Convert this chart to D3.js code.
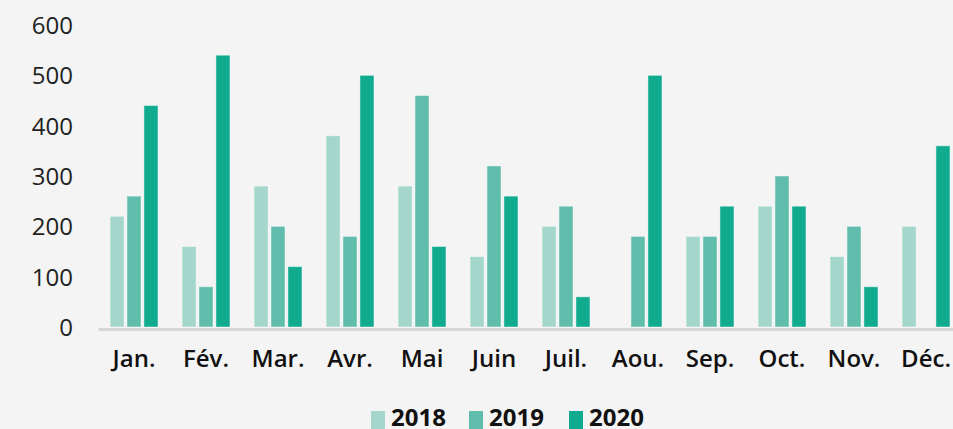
<!DOCTYPE html>
<html>
<head>
<meta charset="utf-8">
<script src="https://cdn.jsdelivr.net/npm/d3@7"></script>
<style>
	html, body { margin: 0; padding: 0; background: #f4f4f4; overflow: hidden; }
	svg { display: block; font-family: "Open Sans", sans-serif; }
</style>
</head>
<body>
<svg id="chart" width="953" height="429"></svg>
<script>
	const months = [ 'Jan.', 'Fév.', 'Mar.', 'Avr.', 'Mai', 'Juin', 'Juil.', 'Aou.', 'Sep.', 'Oct.', 'Nov.', 'Déc.' ];
	const years = [ '2018', '2019', '2020' ];
	const colors = [ '#a5d6cc', '#60bdac', '#11ac8f' ];
	const v2018 = [ 220, 160, 280, 380, 280, 140, 200, 0, 180, 240, 140, 200 ];
	const v2019 = [ 260, 80, 200, 180, 460, 320, 240, 180, 180, 300, 200, 0 ];
	const v2020 = [ 440, 540, 120, 500, 160, 260, 60, 500, 240, 240, 80, 360 ];
	const yTicks = [ 0, 100, 200, 300, 400, 500, 600 ];

	( function() {
		let series = [ v2018, v2019, v2020 ],
			svg = d3.select( '#chart' );

		let x = d3.scaleBand().domain( months ).range( [ 98, 962 ] ),
			x1 = d3.scaleBand().domain( years ).range( [ 12, 60 ] ).paddingInner( 0.17 ),
			y = d3.scaleLinear().domain( [ 0, 600 ] ).range( [ 327, 25 ] );

		// y labels
		let yAxis = svg.append( 'g' )
			.attr( 'transform', 'translate(73,0)' )
			.call( d3.axisLeft( y ).tickValues( yTicks ).tickSize( 0 ).tickPadding( 0 ) );
		yAxis.select( '.domain' ).remove();
		yAxis.selectAll( 'text' )
			.attr( 'dy', '0.36em' )
			.style( 'font-family', '"Open Sans", sans-serif' )
			.style( 'font-size', '24px' )
			.attr( 'fill', '#222' );

		// bars
		let groups = svg.append( 'g' ).selectAll( 'g' ).data( months )
			.enter().append( 'g' )
			.attr( 'transform', d => 'translate(' + x( d ) + ',0)' );

		groups.selectAll( 'rect' )
			.data( ( d, i ) => years.map( ( yr, j ) => ( { yr: yr, j: j, v: series[ j ][ i ] } ) ).filter( e => e.v > 0 ) )
			.enter().append( 'rect' )
			.attr( 'x', d => x1( d.yr ) )
			.attr( 'y', d => y( d.v ) )
			.attr( 'width', x1.bandwidth() )
			.attr( 'height', d => y( 0 ) - y( d.v ) )
			.attr( 'fill', d => colors[ d.j ] )
			.attr( 'stroke', 'rgba(255,255,255,0.45)' )
			.attr( 'stroke-width', 1 );

		// x axis
		let xAxis = svg.append( 'g' )
			.attr( 'transform', 'translate(0,329)' )
			.call( d3.axisBottom( x ).tickSize( 0 ) );
		xAxis.select( '.domain' )
			.attr( 'stroke', '#d6d6d6' )
			.attr( 'stroke-width', 3 );
		xAxis.selectAll( 'text' )
			.attr( 'y', 38 )
			.attr( 'dy', 0 )
			.style( 'font-family', '"Open Sans", sans-serif' )
			.style( 'font-size', '24px' )
			.style( 'font-weight', '600' )
			.attr( 'fill', '#111' );

		// legend
		let legendX = [ 371, 469, 569 ];
		let legend = svg.append( 'g' ).selectAll( 'g' ).data( years )
			.enter().append( 'g' )
			.attr( 'transform', ( d, i ) => 'translate(' + legendX[ i ] + ',411)' );
		legend.append( 'rect' )
			.attr( 'width', 14 )
			.attr( 'height', 18 )
			.attr( 'fill', ( d, i ) => colors[ i ] );
		legend.append( 'text' )
			.attr( 'x', 20 )
			.attr( 'y', 15 )
			.style( 'font-size', '24px' )
			.style( 'font-weight', '700' )
			.attr( 'fill', '#111' )
			.text( d => d );
	} )();
</script>
</body>
</html>
